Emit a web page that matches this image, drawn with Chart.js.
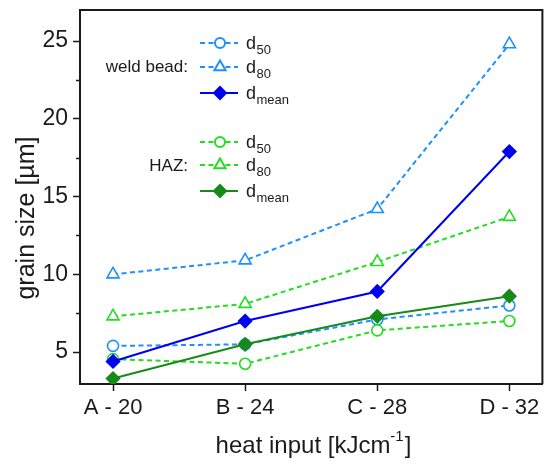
<!DOCTYPE html>
<html>
<head>
<meta charset="utf-8">
<script src="https://cdn.jsdelivr.net/npm/chart.js@4/dist/chart.umd.min.js"></script>
<style>
  body { margin: 0; background: #fff; }
  #wrap { width: 551px; height: 464px; }
</style>
</head>
<body>
<div id="wrap"><canvas id="myChart"></canvas></div>
<script>
// heat input categories
const labels = ["A - 20", "B - 24", "C - 28", "D - 32"];

// grain size values [um]
const weldD50 = [5.4, 5.5, 7.1, 8.0];
const weldD80 = [10.0, 10.9, 14.2, 24.8];
const weldMean = [4.4, 7.0, 8.9, 17.9];
const hazD50 = [4.55, 4.25, 6.4, 7.0];
const hazD80 = [7.3, 8.1, 10.8, 13.7];
const hazMean = [3.3, 5.5, 7.3, 8.6];

const FONT = "'Liberation Sans', Arial, sans-serif";
const LIGHTBLUE = "#1e90ff";
const BLUE = "#0000f0";
const LIME = "#22dd22";
const DARKGREEN = "#178a17";

function pts(arr) {
  return arr.map((v, i) => ({ x: i, y: v }));
}

function series(name, sub, data, color, style, dashed, order) {
  return {
    label: name,
    sub: sub,
    data: pts(data),
    borderColor: color,
    backgroundColor: style == "rectRot" ? color : "#ffffff",
    borderWidth: 2,
    borderDash: dashed ? [5, 3.5] : [],
    pointStyle: style,
    pointRadius: style == "circle" ? 5.5 : style == "triangle" ? 7 : 6.5,
    pointBorderColor: color,
    pointBorderWidth: 1.6,
    pointBackgroundColor: style == "rectRot" ? color : "#ffffff",
    order: order,
  };
}

const datasets = [
  series("weld d50", "50", weldD50, LIGHTBLUE, "circle", true, 5),
  series("weld d80", "80", weldD80, LIGHTBLUE, "triangle", true, 4),
  series("weld dmean", "mean", weldMean, BLUE, "rectRot", false, 1),
  series("haz d50", "50", hazD50, LIME, "circle", true, 3),
  series("haz d80", "80", hazD80, LIME, "triangle", true, 2),
  series("haz dmean", "mean", hazMean, DARKGREEN, "rectRot", false, 0),
];

// legend rows: dataset index and row centre
const legendRows = [
  { i: 0, y: 43 }, { i: 1, y: 67 }, { i: 2, y: 93 },
  { i: 3, y: 142 }, { i: 4, y: 165 }, { i: 5, y: 191 },
];

const decorations = {
  id: "decorations",
  afterDraw(chart) {
    const ctx = chart.ctx;
    const a = chart.chartArea;
    const ys = chart.scales.y;
    ctx.save();

    // frame top and right
    ctx.strokeStyle = "#1a1a1a";
    ctx.lineWidth = 2;
    ctx.beginPath();
    ctx.moveTo(a.left, a.top);
    ctx.lineTo(a.right, a.top);
    ctx.lineTo(a.right, a.bottom);
    ctx.stroke();

    // minor ticks on y
    ctx.lineWidth = 1.5;
    [7.5, 12.5, 17.5, 22.5].forEach((v) => {
      const py = Math.round(ys.getPixelForValue(v)) + 0.5;
      ctx.beginPath();
      ctx.moveTo(a.left - 4, py);
      ctx.lineTo(a.left, py);
      ctx.stroke();
    });

    // y title
    ctx.fillStyle = "#1a1a1a";
    ctx.font = "25px " + FONT;
    ctx.textAlign = "center";
    ctx.textBaseline = "middle";
    ctx.save();
    ctx.translate(27, 218);
    ctx.rotate(-Math.PI / 2);
    ctx.fillText("grain size [\u00b5m]", 0, 0);
    ctx.restore();

    // x title with superscript
    const main = "heat input [kJcm";
    const sup = "-1";
    const end = "]";
    ctx.font = "24px " + FONT;
    const w1 = ctx.measureText(main).width;
    const w3 = ctx.measureText(end).width;
    ctx.font = "15px " + FONT;
    const w2 = ctx.measureText(sup).width;
    let x0 = 313 - (w1 + w2 + w3) / 2;
    ctx.textAlign = "left";
    ctx.textBaseline = "alphabetic";
    ctx.font = "24px " + FONT;
    ctx.fillText(main, x0, 453);
    ctx.font = "15px " + FONT;
    ctx.fillText(sup, x0 + w1, 441);
    ctx.font = "24px " + FONT;
    ctx.fillText(end, x0 + w1 + w2 + 1, 453);

    // group labels
    ctx.font = "17px " + FONT;
    ctx.textAlign = "right";
    ctx.textBaseline = "middle";
    ctx.fillText("weld bead:", 188, 67);
    ctx.fillText("HAZ:", 188, 166);

    // legend entries
    legendRows.forEach((r) => {
      const ds = chart.data.datasets[r.i];
      ctx.strokeStyle = ds.borderColor;
      ctx.lineWidth = 2;
      ctx.setLineDash(ds.borderDash);
      ctx.beginPath();
      ctx.moveTo(200, r.y);
      ctx.lineTo(238, r.y);
      ctx.stroke();
      ctx.setLineDash([]);
      ctx.fillStyle = ds.pointBackgroundColor;
      ctx.strokeStyle = ds.pointBorderColor;
      Chart.helpers.drawPoint(ctx, {
        pointStyle: ds.pointStyle,
        radius: ds.pointRadius - 0.5,
        rotation: 0,
        borderWidth: ds.pointBorderWidth,
      }, 220, r.y);

      ctx.fillStyle = "#1a1a1a";
      ctx.textAlign = "left";
      ctx.textBaseline = "alphabetic";
      ctx.font = "18px " + FONT;
      ctx.fillText("d", 246, r.y + 6);
      const dw = ctx.measureText("d").width;
      ctx.font = "13px " + FONT;
      ctx.fillText(ds.sub, 246 + dw + 0.5, r.y + 11);
    });

    ctx.restore();
  },
};

// keep the plot box fixed: no extra room for overhanging tick labels
function fixBox(w, h) {
  return function (scale) {
    if (w) scale.width = w;
    if (h) scale.height = h;
    scale.paddingTop = 0;
    scale.paddingBottom = 0;
    scale.paddingLeft = 0;
    scale.paddingRight = 0;
  };
}

const ctx = document.getElementById("myChart");
new Chart(ctx, {
  type: "line",
  data: { datasets: datasets },
  options: {
    responsive: true,
    maintainAspectRatio: false,
    animation: false,
    layout: { padding: { top: 10, right: 5, left: 0, bottom: 0 } },
    plugins: {
      legend: { display: false },
      tooltip: { enabled: false },
    },
    scales: {
      x: {
        type: "linear",
        min: -0.25,
        max: 3.25,
        afterFit: fixBox(0, 80),
        border: { display: true, color: "#1a1a1a", width: 2 },
        grid: { drawOnChartArea: false, tickLength: 7, tickColor: "#1a1a1a", tickWidth: 1.5 },
        ticks: {
          stepSize: 1,
          includeBounds: false,
          autoSkip: false,
          maxRotation: 0,
          padding: 4,
          color: "#1a1a1a",
          font: { family: FONT, size: 22 },
          callback: (v) => labels[v] ?? "",
        },
      },
      y: {
        min: 2.95,
        max: 27,
        afterFit: fixBox(80, 0),
        border: { display: true, color: "#1a1a1a", width: 2 },
        grid: { drawOnChartArea: false, tickLength: 7, tickColor: "#1a1a1a", tickWidth: 1.5 },
        ticks: {
          stepSize: 5,
          includeBounds: false,
          padding: 5,
          color: "#1a1a1a",
          font: { family: FONT, size: 23 },
        },
      },
    },
  },
  plugins: [decorations],
});
</script>
</body>
</html>
